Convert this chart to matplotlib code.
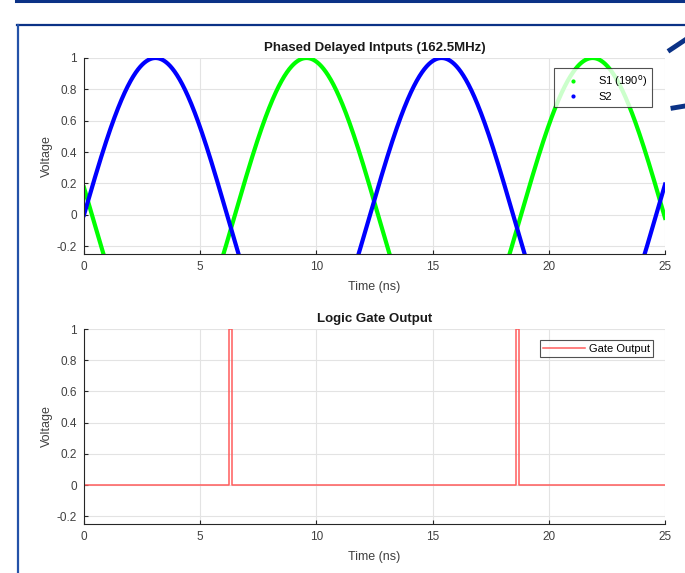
import numpy as np
import matplotlib
matplotlib.use("Agg")
import matplotlib.pyplot as plt
from matplotlib.lines import Line2D

plt.rcParams['font.family'] = ['Liberation Sans', 'DejaVu Sans']

# parametros
periodo_ns = 12.31          # periodo de las senales (ns)
fase_s1_deg = 190.0         # retardo de S1
amplitud = 1.0
t_inicio, t_fin = 0.0, 25.0

# salida de la compuerta (flancos)
gate_t = [0.0, 6.25, 6.25, 6.37, 6.37, 18.58, 18.58, 18.72, 18.72, 25.0]
gate_v = [0, 0, 1, 1, 0, 0, 1, 1, 0, 0]

x_ticks = [0, 5, 10, 15, 20, 25]
y_ticks = [-0.2, 0, 0.2, 0.4, 0.6, 0.8, 1]
y_tick_labels = ['-0.2', '0', '0.2', '0.4', '0.6', '0.8', '1']

COLOR_MARCO = '#0b3286'
COLOR_TEXTO = '#404040'

t = np.linspace(t_inicio, t_fin, 2000)
w = 2 * np.pi / periodo_ns
s1 = amplitud * np.sin(w * t - np.deg2rad(fase_s1_deg))
s2 = amplitud * np.sin(w * t)


def estilo_ejes(ax):
    ax.set_xlim(t_inicio, t_fin)
    ax.set_ylim(-0.25, 1)
    ax.set_xticks(x_ticks)
    ax.set_xticklabels([str(x) for x in x_ticks])
    ax.set_yticks(y_ticks)
    ax.set_yticklabels(y_tick_labels)
    ax.grid(True, color='#e3e3e3', linewidth=0.8)
    ax.set_axisbelow(True)
    ax.spines['top'].set_visible(False)
    ax.spines['right'].set_visible(False)
    ax.spines['left'].set_color('#262626')
    ax.spines['bottom'].set_color('#262626')
    ax.tick_params(direction='in', length=3, labelsize=8.5, colors='#262626',
                   labelcolor=COLOR_TEXTO, pad=5)
    ax.set_xlabel('Time (ns)', fontsize=9, color=COLOR_TEXTO, labelpad=6)
    ax.set_ylabel('Voltage', fontsize=9, color=COLOR_TEXTO, labelpad=3)


fig = plt.figure(figsize=(6.85, 5.73), dpi=100)

# marco azul de la diapositiva
fig.add_artist(Line2D([16 / 685, 1], [1 - 1 / 573, 1 - 1 / 573], color=COLOR_MARCO,
                      linewidth=2.2, transform=fig.transFigure))
fig.add_artist(Line2D([17 / 685, 1], [1 - 24.5 / 573, 1 - 24.5 / 573], color=COLOR_MARCO,
                      linewidth=1.6, transform=fig.transFigure))
fig.add_artist(Line2D([17.5 / 685, 17.5 / 685], [0, 1 - 24.5 / 573], color='#2452a8',
                      linewidth=1.6, transform=fig.transFigure))
fig.add_artist(Line2D([670 / 685, 685 / 685], [1 - 50 / 573, 1 - 40 / 573], color=COLOR_MARCO,
                      linewidth=3.5, transform=fig.transFigure))
fig.add_artist(Line2D([673 / 685, 685 / 685], [1 - 108 / 573, 1 - 106 / 573], color=COLOR_MARCO,
                      linewidth=3.5, transform=fig.transFigure))

# subplot superior
ax1 = fig.add_axes([84 / 685, 1 - 254 / 573, 581 / 685, 196 / 573])
ax1.plot(t, s1, color='#00ff00', linewidth=3)
ax1.plot(t, s2, color='#0000ff', linewidth=3)
estilo_ejes(ax1)
ax1.set_title('Phased Delayed Intputs (162.5MHz)', fontsize=9.5, fontweight='bold',
              color='#1a1a1a', pad=5)
handles = [Line2D([], [], color='#00ff00', marker='.', markersize=4, linestyle='none'),
           Line2D([], [], color='#0000ff', marker='.', markersize=4, linestyle='none')]
leg1 = ax1.legend(handles, [r'S1 (190$^{\mathrm{o}}$)', 'S2'], loc='upper right',
                  bbox_to_anchor=(0.988, 0.975), fontsize=8, frameon=True, fancybox=False,
                  handlelength=2.5, handletextpad=1.0, borderpad=0.45, labelspacing=0.25)
leg1.get_frame().set_edgecolor('#262626')
leg1.get_frame().set_linewidth(0.8)

# subplot inferior
ax2 = fig.add_axes([84 / 685, 1 - 524 / 573, 581 / 685, 195 / 573])
ax2.plot(gate_t, gate_v, color='#ff5c5c', linewidth=1.1, label='Gate Output')
estilo_ejes(ax2)
ax2.set_title('Logic Gate Output', fontsize=9.5, fontweight='bold', color='#1a1a1a', pad=5)
leg2 = ax2.legend(loc='upper right', bbox_to_anchor=(0.989, 0.97), fontsize=8,
                  frameon=True, fancybox=False, handlelength=3.8, handletextpad=0.3,
                  borderpad=0.3)
leg2.get_frame().set_edgecolor('#262626')
leg2.get_frame().set_linewidth(0.8)

fig.savefig('out.png', dpi=100)
plt.close(fig)
